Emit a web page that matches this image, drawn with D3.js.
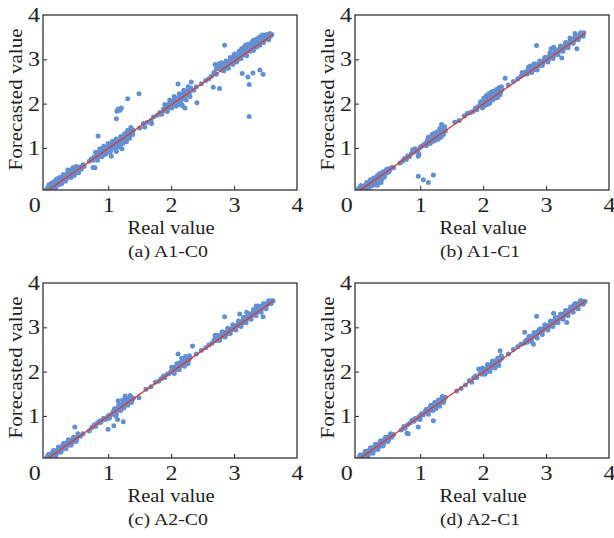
<!DOCTYPE html>
<html>
<head>
<meta charset="utf-8">
<script src="https://cdn.jsdelivr.net/npm/d3@7"></script>
<style>
  body { margin: 0; background: #fff; }
  text { font-family: "Liberation Serif", "Times New Roman", serif; fill: #222; }
</style>
</head>
<body>
<script>
// tick labels
var xTicks = [0, 1, 2, 3, 4];
var yTicks = [1, 2, 3, 4];
var xTitle = "Real value";
var yTitle = "Forecasted value";
var captions = ["(a) A1-C0", "(b) A1-C1", "(c) A2-C0", "(d) A2-C1"];

// end of the red fit line in each panel (starts at 0,0)
var lineEnds = [[3.62, 3.56], [3.63, 3.6], [3.63, 3.6], [3.63, 3.6]];

// [real, forecasted]
var pointsA = [
  [0.02,0.06],[0.04,0.1],[0.05,0.04],[0.06,0.12],[0.08,0.07],[0.09,0.14],[0.1,0.1],[0.12,0.16],[0.13,0.11],[0.15,0.2],
  [0.16,0.14],[0.18,0.3],[0.19,0.2],[0.21,0.25],[0.22,0.17],[0.24,0.27],[0.25,0.22],[0.27,0.3],[0.28,0.35],[0.3,0.27],
  [0.31,0.34],[0.33,0.38],[0.34,0.3],[0.36,0.5],[0.37,0.4],[0.39,0.36],[0.4,0.45],[0.42,0.41],[0.43,0.52],[0.45,0.46],
  [0.47,0.5],[0.48,0.43],[0.5,0.53],[0.52,0.48],[0.55,0.57],[0.57,0.52],[0.6,0.62],[0.62,0.58],
  [0.06,0.17],[0.1,0.2],[0.14,0.24],[0.17,0.1],[0.2,0.3],[0.23,0.33],[0.26,0.19],[0.29,0.4],[0.32,0.25],[0.35,0.42],
  [0.38,0.48],[0.41,0.33],[0.44,0.55],[0.46,0.38],[0.49,0.58],[0.53,0.44],
  [0.7,0.7],[0.73,0.75],[0.76,0.72],[0.78,0.8],[0.8,0.76],[0.82,0.86],[0.84,0.8],[0.86,0.92],[0.88,0.84],[0.9,0.96],
  [0.92,0.9],[0.94,1.0],[0.96,0.94],[0.98,1.02],[1.0,0.97],[1.02,1.06],[1.04,1.0],[1.06,1.08],[1.08,1.04],[1.1,1.12],
  [1.12,1.07],[1.14,1.15],[1.16,1.1],[1.18,1.18],[1.2,1.14],[1.22,1.22],[1.24,1.18],[1.26,1.25],[1.28,1.2],[1.3,1.3],
  [1.32,1.26],[1.33,1.38],[1.35,1.32],[1.37,1.42],[1.38,1.35],[1.4,1.4],[0.95,0.85],[1.03,0.9],[1.12,0.96],[1.22,0.98],[1.18,1.02],
  [0.8,0.9],[0.83,0.72],[0.87,0.98],[0.9,0.8],[0.93,1.04],[0.97,0.88],[1.0,1.1],[1.04,0.94],[1.07,1.15],[1.1,1.0],
  [1.13,1.2],[1.17,1.05],[1.2,1.26],[1.23,1.1],[1.26,1.32],[1.29,1.14],[1.31,1.4],[1.34,1.22],[1.36,1.46],[1.39,1.3],
  [1.5,1.45],[1.56,1.55],[1.62,1.58],[1.68,1.62],[1.72,1.7],[1.78,1.74],[1.82,1.8],[1.85,1.76],[1.88,1.88],[1.9,1.84],
  [1.93,1.95],[1.95,1.9],[1.97,2.0],[2.0,1.96],[2.02,2.06],[2.04,2.0],[2.06,2.1],[2.08,2.03],[2.1,2.08],[2.12,2.14],
  [2.14,2.06],[2.15,2.18],[2.17,2.1],[2.19,2.22],[2.21,2.15],[2.23,2.26],[2.25,2.2],[2.27,2.32],[2.29,2.24],[2.31,2.35],
  [2.12,1.98],[2.18,1.95],[2.22,1.9],[2.08,1.94],[2.36,2.3],[2.4,2.38],[2.48,2.45],
  [1.9,1.98],[1.94,1.82],[1.98,2.08],[2.01,1.9],[2.05,2.16],[2.09,1.98],[2.13,2.22],[2.16,2.0],[2.2,2.3],[2.24,2.08],
  [2.27,2.38],[2.3,2.16],
  [2.55,2.52],[2.6,2.56],[2.64,2.62],[2.68,2.7],[2.7,2.88],[2.72,2.66],[2.75,2.8],[2.78,2.84],[2.8,2.76],[2.82,2.88],
  [2.85,2.82],[2.88,2.9],[2.9,2.86],[2.92,2.95],[2.95,2.92],[2.97,3.0],[3.0,2.96],[3.02,3.05],[3.05,3.0],[3.07,3.1],
  [3.1,3.06],[3.12,3.15],[3.14,3.1],[3.16,3.2],[3.18,3.15],[3.2,3.26],[3.22,3.2],[3.24,3.3],[3.26,3.24],[3.28,3.32],
  [3.3,3.27],[3.32,3.36],[3.34,3.3],[3.36,3.4],[3.38,3.35],[3.4,3.44],[3.42,3.38],[3.44,3.47],[3.46,3.42],[3.48,3.5],
  [3.5,3.46],[3.52,3.52],[3.54,3.48],[3.56,3.54],[3.58,3.52],[3.6,3.56],[3.18,3.32],[3.3,3.42],[3.12,3.24],[3.25,3.18],
  [3.4,3.5],[3.45,3.55],[3.36,3.28],[3.0,3.1],[2.95,3.02],[3.05,2.98],[3.2,3.08],[3.47,3.52],[3.53,3.56],
  [2.72,2.78],[2.76,2.9],[2.8,2.92],[2.84,2.74],[2.87,2.96],[2.91,2.8],[2.94,3.04],[2.98,2.88],[3.01,3.12],[3.04,2.94],
  [3.08,3.18],[3.11,3.02],[3.15,3.26],[3.19,3.1],[3.22,3.34],[3.27,3.36],[3.31,3.2],[3.33,3.44],[3.37,3.46],[3.41,3.32],
  [3.43,3.52],[3.47,3.38],[3.5,3.55],[3.55,3.44],[3.57,3.58],
  [2.85,3.32],[3.13,2.68],[3.3,2.69],[3.41,2.76],[3.46,2.66],[3.22,2.6],[3.24,2.43],[3.24,1.71],[2.67,2.37],[2.77,2.34],
  [2.41,2.02],[2.11,2.44],[2.32,2.49],[1.49,2.22],[1.31,2.11],[1.16,1.88],[1.19,1.85],[1.21,1.9],[1.14,1.83],[1.13,1.66],
  [0.84,1.27],[0.79,0.55],[0.76,0.56],[1.05,0.81],[1.13,0.92],[1.58,1.47],[1.69,1.55]
];

var pointsB = [
  [0.02,0.08],[0.04,0.04],[0.05,0.12],[0.07,0.08],[0.09,0.13],[0.1,0.07],[0.12,0.15],[0.14,0.11],[0.16,0.18],[0.17,0.13],
  [0.19,0.22],[0.2,0.16],[0.22,0.24],[0.24,0.2],[0.25,0.27],[0.27,0.23],[0.28,0.3],[0.3,0.2],[0.31,0.33],[0.32,0.16],
  [0.33,0.28],[0.35,0.36],[0.36,0.25],[0.37,0.4],[0.38,0.22],[0.4,0.38],[0.42,0.43],[0.44,0.4],[0.46,0.49],[0.48,0.45],
  [0.5,0.53],[0.52,0.5],[0.55,0.56],[0.58,0.55],
  [0.06,0.15],[0.11,0.04],[0.15,0.22],[0.18,0.09],[0.21,0.28],[0.23,0.14],[0.26,0.32],[0.29,0.17],[0.32,0.38],[0.34,0.21],
  [0.36,0.42],[0.39,0.3],[0.41,0.46],[0.43,0.34],[0.47,0.52],[0.5,0.45],
  [0.68,0.66],[0.72,0.7],[0.75,0.76],[0.78,0.74],[0.8,0.82],[0.83,0.8],[0.86,0.87],[0.88,0.96],[0.9,0.9],[0.92,0.98],
  [0.94,0.93],[0.96,0.94],[0.98,0.86],[1.0,1.01],[1.02,1.04],[1.05,1.06],[1.08,1.1],[1.1,1.12],[1.12,1.18],[1.14,1.14],
  [1.16,1.2],[1.18,1.25],[1.2,1.2],[1.22,1.27],[1.24,1.22],[1.26,1.3],[1.28,1.24],[1.3,1.32],[1.32,1.28],[1.34,1.4],
  [1.36,1.35],[1.38,1.42],[1.4,1.38],[1.34,1.53],[1.36,1.48],[0.97,0.81],
  [1.1,1.05],[1.13,1.24],[1.16,1.1],[1.19,1.3],[1.21,1.15],[1.23,1.33],[1.25,1.18],[1.27,1.36],[1.29,1.2],[1.31,1.43],
  [1.33,1.24],[1.35,1.46],[1.37,1.3],[1.39,1.48],
  [1.55,1.58],[1.62,1.62],[1.7,1.72],[1.75,1.78],[1.8,1.8],[1.84,1.82],[1.88,1.9],[1.9,1.86],[1.93,1.94],[1.95,1.98],
  [1.98,1.95],[2.0,2.04],[2.02,2.1],[2.04,2.0],[2.06,2.12],[2.08,2.06],[2.1,2.16],[2.12,2.1],[2.14,2.2],[2.16,2.14],
  [2.18,2.22],[2.2,2.18],[2.22,2.25],[2.24,2.2],[2.26,2.3],[2.28,2.26],[2.3,2.32],[2.06,1.98],[2.1,2.0],[2.35,2.57],
  [2.4,2.42],[2.48,2.5],
  [1.96,2.04],[1.99,1.9],[2.01,2.12],[2.03,1.96],[2.05,2.18],[2.07,2.0],[2.09,2.22],[2.11,2.04],[2.13,2.26],[2.15,2.08],
  [2.17,2.28],[2.19,2.12],[2.21,2.32],[2.23,2.14],[2.25,2.36],[2.27,2.2],[2.29,2.38],
  [2.55,2.56],[2.6,2.62],[2.65,2.66],[2.68,2.72],[2.7,2.67],[2.72,2.76],[2.75,2.72],[2.78,2.8],[2.8,2.76],[2.82,2.84],
  [2.85,2.8],[2.88,2.9],[2.9,2.86],[2.92,2.94],[2.95,2.92],[2.97,2.98],[3.0,2.98],[3.02,3.04],[3.05,3.02],[3.07,3.08],
  [3.1,3.12],[3.12,3.08],[3.14,3.16],[3.16,3.14],[3.18,3.2],[3.2,3.18],[3.22,3.24],[3.24,3.2],[3.26,3.28],[3.28,3.25],
  [3.3,3.32],[3.32,3.3],[3.34,3.36],[3.36,3.34],[3.38,3.4],[3.4,3.38],[3.42,3.45],[3.44,3.42],[3.46,3.5],[3.48,3.46],
  [3.5,3.52],[3.52,3.5],[3.54,3.56],[3.56,3.54],[3.58,3.58],[3.6,3.6],[3.46,3.58],[3.12,3.27],[3.08,3.24],[2.75,2.85],
  [2.62,2.7],[3.25,3.03],[3.49,3.24],[3.38,3.48],
  [2.72,2.82],[2.77,2.7],[2.81,2.9],[2.86,2.76],[2.9,2.96],[2.94,2.86],[2.98,3.04],[3.03,2.94],[3.06,3.14],[3.11,3.02],
  [3.15,3.22],[3.19,3.1],[3.23,3.3],[3.27,3.18],[3.31,3.38],[3.35,3.26],[3.39,3.46],[3.43,3.36],[3.47,3.54],[3.51,3.44],
  [3.55,3.6],[3.59,3.52],
  [2.85,3.31],[0.97,0.36],[1.05,0.28],[1.13,0.22],[1.21,0.39]
];

var pointsC = [
  [0.02,0.05],[0.04,0.1],[0.06,0.06],[0.08,0.14],[0.1,0.1],[0.12,0.18],[0.14,0.13],[0.16,0.2],[0.18,0.16],[0.2,0.25],
  [0.22,0.2],[0.24,0.28],[0.26,0.24],[0.28,0.34],[0.3,0.28],[0.32,0.38],[0.34,0.32],[0.36,0.42],[0.38,0.36],[0.4,0.44],
  [0.42,0.4],[0.44,0.48],[0.46,0.43],[0.47,0.75],[0.48,0.5],[0.5,0.47],[0.53,0.55],[0.56,0.54],[0.6,0.6],
  [0.05,0.13],[0.09,0.04],[0.13,0.22],[0.17,0.1],[0.21,0.3],[0.25,0.18],[0.29,0.38],[0.33,0.26],[0.37,0.46],[0.41,0.34],
  [0.45,0.52],[0.49,0.42],[0.52,0.6],
  [0.7,0.66],[0.74,0.74],[0.78,0.8],[0.8,0.76],[0.83,0.84],[0.86,0.88],[0.88,0.85],[0.9,0.9],[0.93,0.95],[0.96,0.92],
  [1.0,0.7],[1.09,0.78],[1.24,0.87],[1.15,0.92],[1.0,1.0],[1.03,1.02],[1.06,1.04],[1.08,1.1],[1.1,1.06],[1.12,1.15],
  [1.14,1.12],[1.16,1.2],[1.16,1.34],[1.18,1.16],[1.2,1.24],[1.22,1.2],[1.24,1.3],[1.26,1.24],[1.27,1.45],[1.28,1.34],
  [1.3,1.3],[1.32,1.38],[1.34,1.34],[1.36,1.42],[1.38,1.36],[1.4,1.4],[1.49,1.41],[1.02,0.95],[1.12,1.0],
  [1.1,1.16],[1.13,1.04],[1.17,1.26],[1.2,1.12],[1.23,1.36],[1.25,1.18],[1.29,1.4],[1.31,1.24],[1.35,1.46],[1.37,1.3],
  [1.6,1.6],[1.68,1.66],[1.75,1.76],[1.8,1.78],[1.84,1.84],[1.88,1.9],[1.9,1.86],[1.94,1.94],[1.97,1.96],[2.0,2.0],
  [2.02,2.06],[2.04,2.02],[2.06,2.1],[2.08,2.04],[2.1,2.14],[2.12,2.1],[2.14,2.2],[2.16,2.14],[2.18,2.24],[2.2,2.18],
  [2.22,2.28],[2.24,2.22],[2.26,2.3],[2.28,2.26],[2.3,2.32],[2.11,2.4],[2.34,2.58],[2.4,2.4],[2.48,2.48],
  [2.01,2.1],[2.05,1.96],[2.09,2.18],[2.13,2.04],[2.17,2.3],[2.21,2.12],[2.23,2.34],[2.27,2.18],[2.29,2.36],
  [2.55,2.54],[2.6,2.6],[2.65,2.64],[2.68,2.7],[2.7,2.76],[2.72,2.7],[2.75,2.78],[2.78,2.76],[2.8,2.84],[2.82,2.8],
  [2.85,2.88],[2.88,2.85],[2.9,2.92],[2.92,2.9],[2.95,2.96],[2.98,2.95],[3.0,3.02],[3.02,2.98],[3.05,3.06],[3.08,3.04],
  [3.1,3.12],[3.12,3.08],[3.14,3.16],[3.16,3.14],[3.18,3.22],[3.2,3.18],[3.22,3.26],[3.24,3.22],[3.26,3.3],[3.28,3.26],
  [3.3,3.34],[3.32,3.3],[3.34,3.38],[3.36,3.34],[3.38,3.42],[3.4,3.38],[3.42,3.46],[3.44,3.42],[3.46,3.5],[3.48,3.46],
  [3.5,3.52],[3.52,3.5],[3.54,3.56],[3.56,3.54],[3.58,3.58],[3.6,3.6],[3.62,3.6],[2.85,3.24],[3.09,3.3],[3.2,3.34],
  [3.46,3.24],[3.35,3.48],[2.7,2.82],
  [2.73,2.82],[2.77,2.7],[2.81,2.9],[2.86,2.78],[2.9,2.98],[2.94,2.86],[2.98,3.06],[3.03,2.94],[3.07,3.14],[3.11,3.02],
  [3.15,3.22],[3.19,3.1],[3.23,3.3],[3.27,3.18],[3.31,3.4],[3.35,3.26],[3.39,3.48],[3.43,3.34],[3.47,3.54],[3.51,3.42],
  [3.55,3.6],[3.59,3.54]
];

var pointsD = [
  [0.02,0.04],[0.04,0.1],[0.06,0.05],[0.08,0.12],[0.1,0.08],[0.12,0.16],[0.14,0.1],[0.16,0.2],[0.18,0.14],[0.2,0.24],
  [0.22,0.18],[0.24,0.27],[0.26,0.22],[0.28,0.32],[0.3,0.26],[0.32,0.35],[0.34,0.3],[0.36,0.4],[0.38,0.34],[0.4,0.43],
  [0.42,0.38],[0.44,0.48],[0.46,0.44],[0.48,0.52],[0.5,0.47],[0.52,0.55],[0.55,0.52],[0.58,0.58],
  [0.05,0.12],[0.09,0.03],[0.13,0.2],[0.17,0.08],[0.21,0.28],[0.25,0.16],[0.29,0.36],[0.33,0.24],[0.37,0.44],[0.41,0.32],
  [0.45,0.52],[0.49,0.42],[0.53,0.6],
  [0.7,0.68],[0.74,0.76],[0.76,0.72],[0.8,0.8],[0.79,0.61],[0.81,0.6],[0.84,0.84],[0.87,0.9],[0.9,0.88],[0.92,0.94],
  [0.95,0.93],[0.97,0.75],[0.98,0.98],[1.0,1.0],[1.02,1.05],[1.05,1.02],[1.08,1.1],[1.1,1.08],[1.12,1.14],[1.14,1.12],
  [1.16,1.2],[1.18,1.16],[1.2,1.22],[1.21,0.89],[1.22,1.2],[1.24,1.26],[1.26,1.22],[1.28,1.3],[1.3,1.28],[1.32,1.36],
  [1.34,1.32],[1.36,1.4],[1.38,1.36],[1.4,1.42],[1.0,0.92],
  [1.1,1.15],[1.13,1.04],[1.17,1.24],[1.2,1.12],[1.23,1.3],[1.25,1.16],[1.29,1.36],[1.31,1.22],[1.35,1.44],[1.37,1.3],
  [1.58,1.56],[1.65,1.62],[1.72,1.7],[1.78,1.8],[1.82,1.76],[1.85,1.86],[1.88,1.9],[1.9,1.86],[1.93,2.06],[1.95,1.96],
  [1.98,1.94],[2.0,2.02],[2.02,1.98],[2.04,2.06],[2.06,2.0],[2.08,2.12],[2.1,2.06],[2.12,2.16],[2.14,2.1],[2.16,2.2],
  [2.18,2.14],[2.2,2.24],[2.22,2.18],[2.24,2.28],[2.27,2.47],[2.26,2.24],[2.28,2.32],[2.3,2.3],[2.4,2.4],[2.48,2.5],
  [1.99,2.08],[2.03,1.94],[2.07,2.16],[2.11,2.0],[2.15,2.24],[2.19,2.08],[2.23,2.3],[2.25,2.14],[2.29,2.36],
  [2.55,2.56],[2.6,2.62],[2.66,2.89],[2.65,2.64],[2.68,2.7],[2.7,2.66],[2.72,2.74],[2.75,2.72],[2.78,2.8],[2.8,2.62],
  [2.8,2.78],[2.82,2.86],[2.85,3.25],[2.85,2.84],[2.88,2.92],[2.9,2.88],[2.92,2.96],[2.95,2.92],[2.98,3.0],[3.0,2.98],
  [3.02,3.04],[3.05,3.02],[3.08,3.1],[3.1,3.06],[3.12,3.32],[3.12,3.14],[3.14,3.1],[3.16,3.2],[3.18,3.16],[3.2,3.22],
  [3.22,3.2],[3.24,3.26],[3.26,3.24],[3.28,3.3],[3.3,3.28],[3.32,3.34],[3.33,3.11],[3.34,3.32],[3.36,3.38],[3.38,3.36],
  [3.4,3.42],[3.42,3.4],[3.44,3.46],[3.46,3.44],[3.48,3.5],[3.5,3.48],[3.52,3.54],[3.54,3.52],[3.56,3.56],[3.58,3.55],
  [3.6,3.58],[3.62,3.58],[3.45,3.52],[3.55,3.6],
  [2.73,2.8],[2.77,2.68],[2.81,2.88],[2.86,2.76],[2.9,2.96],[2.94,2.84],[2.98,3.06],[3.03,2.94],[3.07,3.14],[3.11,3.02],
  [3.15,3.22],[3.19,3.1],[3.23,3.3],[3.27,3.18],[3.31,3.38],[3.35,3.26],[3.39,3.46],[3.43,3.34],[3.47,3.54],[3.51,3.42],
  [3.55,3.6],[3.59,3.52]
];

var allPoints = [pointsA, pointsB, pointsC, pointsD];

var width = 614;
var height = 538;

var svg = d3.select("body").append("svg")
  .attr("width", width)
  .attr("height", height);

// plot box of each panel, in pixels
var boxes = [
  {l: 43,  t: 15,  r: 297, b: 190},
  {l: 355, t: 15,  r: 609, b: 190},
  {l: 43,  t: 283, r: 297, b: 458},
  {l: 355, t: 283, r: 609, b: 458}
];

boxes.forEach(function(box, i){
  var xScale = d3.scaleLinear().domain([-0.035, 4]).range([box.l, box.r]);
  var yScale = d3.scaleLinear().domain([0.05, 4]).range([box.b, box.t]);

  var g = svg.append("g");

  g.append("clipPath").attr("id", "clip" + i)
    .append("rect")
    .attr("x", box.l).attr("y", box.t)
    .attr("width", box.r - box.l).attr("height", box.b - box.t);

  var inner = g.append("g").attr("clip-path", "url(#clip" + i + ")");

  inner.selectAll("circle")
    .data(allPoints[i])
    .enter()
    .append("circle")
    .attr("r", 2.5)
    .attr("fill", "#6090d2")
    .attr("cx", function(d){ return xScale(d[0]); })
    .attr("cy", function(d){ return yScale(d[1]); });

  var line = d3.line()
    .x(function(d){ return xScale(d[0]); })
    .y(function(d){ return yScale(d[1]); });

  inner.append("path")
    .datum([[0, 0], lineEnds[i]])
    .attr("d", line)
    .attr("fill", "none")
    .attr("stroke", "#e5352f")
    .attr("stroke-width", 1.3);

  // axes: short ticks pointing inward
  var xAxis = g.append("g")
    .attr("transform", "translate(0," + box.b + ")")
    .call(d3.axisBottom(xScale).tickValues(xTicks).tickSize(-4).tickPadding(8).tickFormat(d3.format("d")));
  var yAxis = g.append("g")
    .attr("transform", "translate(" + box.l + ",0)")
    .call(d3.axisLeft(yScale).tickValues(yTicks).tickSize(-4).tickPadding(3).tickFormat(d3.format("d")));

  [xAxis, yAxis].forEach(function(ax){
    ax.select(".domain").remove();
    ax.selectAll(".tick line")
      .attr("stroke", "#333")
      .attr("stroke-width", 1.1)
      .attr("display", function(d){ return (d === 0 || d === 4) ? "none" : null; });
    ax.selectAll(".tick text")
      .attr("fill", "#222")
      .style("font-family", '"Liberation Serif", "Times New Roman", serif')
      .style("font-size", "20px")
      .attr("textLength", 12)
      .attr("lengthAdjust", "spacingAndGlyphs");
  });
  // the 0 on the x axis sits a little left of the corner
  xAxis.selectAll(".tick text").filter(function(d){ return d === 0; }).attr("dx", -11);

  // frame
  g.append("rect")
    .attr("x", box.l).attr("y", box.t)
    .attr("width", box.r - box.l).attr("height", box.b - box.t)
    .attr("fill", "none")
    .attr("stroke", "#333")
    .attr("stroke-width", 1.3);

  var cx = (box.l + box.r) / 2;

  g.append("text")
    .attr("x", cx + 1).attr("y", box.b + 44)
    .attr("text-anchor", "middle")
    .style("font-size", "19px")
    .attr("textLength", 87).attr("lengthAdjust", "spacingAndGlyphs")
    .text(xTitle);

  g.append("text")
    .attr("transform", "translate(" + (box.l - 21) + "," + ((box.t + box.b) / 2 - 3) + ") rotate(-90)")
    .attr("text-anchor", "middle")
    .style("font-size", "19px")
    .attr("textLength", 142).attr("lengthAdjust", "spacingAndGlyphs")
    .text(yTitle);

  g.append("text")
    .attr("x", cx - 2).attr("y", box.b + 67)
    .attr("text-anchor", "middle")
    .style("font-size", "17px")
    .attr("textLength", 80).attr("lengthAdjust", "spacingAndGlyphs")
    .text(captions[i]);
});
</script>
</body>
</html>
